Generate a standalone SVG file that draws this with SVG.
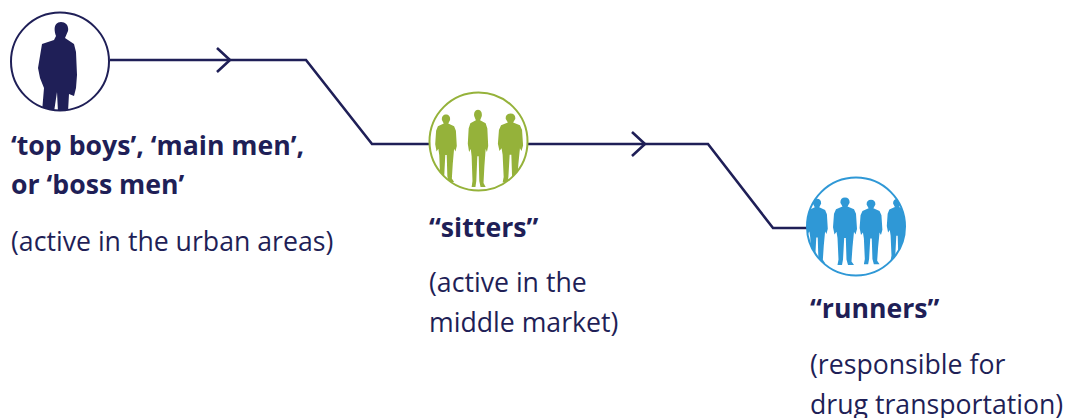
<svg xmlns="http://www.w3.org/2000/svg" width="1067" height="418" viewBox="0 0 1067 418">
<style>
.t{font-family:"Open Sans","Noto Sans",sans-serif;font-size:26.67px;fill:#1f1f57}
.b{font-weight:700}
.c{fill:#fff;stroke-width:2}
.l{fill:none;stroke:#1f1f57;stroke-width:2.6}
.navy{fill:#1f1f57}.green{fill:#95b23a}.blue{fill:#2f98d6}
</style>
<defs>
<clipPath id="c1"><circle cx="60" cy="61.5" r="49"/></clipPath>
<clipPath id="c2"><circle cx="478.5" cy="141.5" r="49"/></clipPath>
<clipPath id="c3"><circle cx="856" cy="226.5" r="49"/></clipPath>
<path id="man" d="M0,-5 C3.5,-5 5,-2 4.5,1 L2.5,5 L9,8 L11,13 L12,30 L10.5,36 L9,33 L7.5,50 L6.5,66 L9,70 L3,70 L1.5,64 L.8,40 L-.8,40 L-2,64 L-3,70 L-7.5,70 L-6.5,64 L-7.5,40 L-8.5,33 L-10.5,36 L-12,28 L-11,13 L-9,8 L-2.5,5 L-4.5,1 C-5,-2 -3.5,-5 0,-5Z"/>
</defs>
<g id="connectors">
<path class="l" d="M110,60 H306 L372,144 H429"/>
<path class="l" d="M527,144 H708 L773,228 H808"/>
<path class="l" d="M217,48 L230,60 L217,72"/>
<path class="l" d="M632,132 L645,144 L632,156"/>
</g>
<g id="node-top">
<circle class="c" cx="60" cy="61.5" r="49" stroke="#1f1f57"/>
<g clip-path="url(#c1)"><path class="navy" d="M61,22 C66,22 69,26 68,31 L65,38 L74,44 L76,52 L77,75 L76,88 L74,96 L69,94 L68,112 L58,112 L57,92 L54,112 L42,112 L44,88 L40,78 L38,68 L41,50 L42,44 L54,40 L56,36 C53,28 55,22 61,22Z"/></g>
<text class="t b" x="11" y="155">‘top boys’, ‘main men’,</text>
<text class="t b" x="11" y="194">or ‘boss men’</text>
<text class="t" x="11" y="250.5">(active in the urban areas)</text>
</g>
<g id="node-sitters">
<circle class="c" cx="478.5" cy="141.5" r="49" stroke="#95b23a"/>
<g clip-path="url(#c2)" class="green">
<use href="#man" transform="translate(446,119) scale(.9,.9)"/>
<use href="#man" transform="translate(478,115) scale(.85,1.03)"/>
<use href="#man" transform="translate(510.500,118) scale(1.05,.92)"/>
</g>
<text class="t b" x="429" y="237">“sitters”</text>
<text class="t" x="429" y="292">(active in the</text>
<text class="t" x="429" y="332">middle market)</text>
</g>
<g id="node-runners">
<circle class="c" cx="856" cy="226.5" r="49" stroke="#2f98d6"/>
<g clip-path="url(#c3)" class="blue">
<use href="#man" transform="translate(817,203) scale(.9,.86)"/>
<use href="#man" transform="translate(845,202) scale(1,.9)"/>
<use href="#man" transform="translate(871,204) scale(.95,.86)"/>
<use href="#man" transform="translate(897,203) scale(.85,.82)"/>
</g>
<text class="t b" x="810" y="318">“runners”</text>
<text class="t" x="810" y="374">(responsible for</text>
<text class="t" x="810" y="414">drug transportation)</text>
</g>
</svg>
